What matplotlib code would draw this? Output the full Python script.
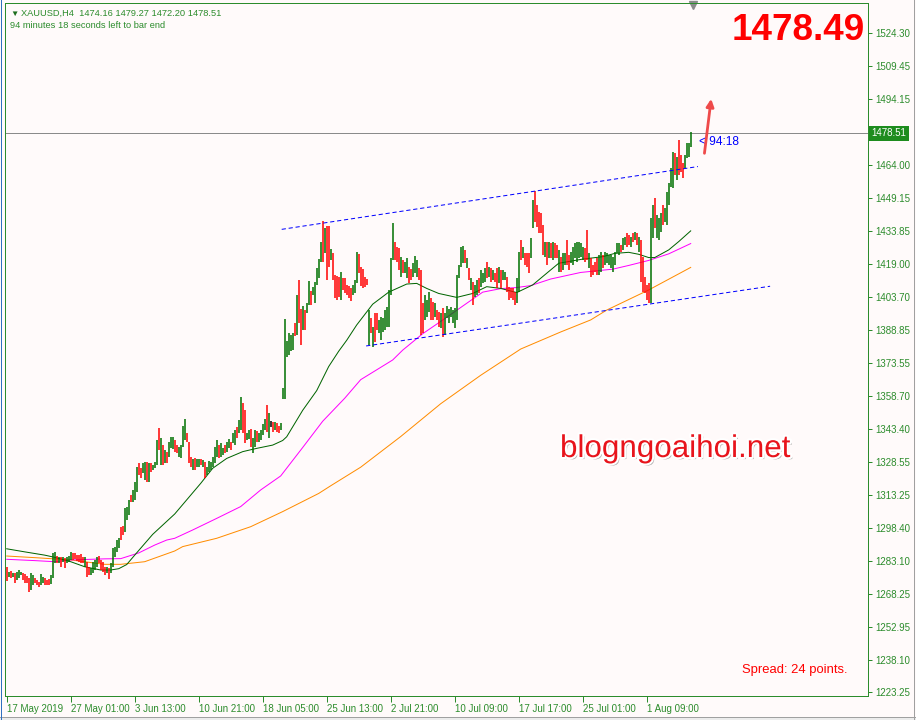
import numpy as np
import matplotlib
matplotlib.use("Agg")
import matplotlib.pyplot as plt
import matplotlib.patheffects as pe
import matplotlib.transforms as mtransforms

# ---- H4 bars (high / low), 10 per row ----
highs = [
    1280.5, 1278.2, 1278.7, 1277.8, 1277.5, 1278.2, 1279.0, 1278.2, 1277.5, 1277.2,
    1276.3, 1275.2, 1277.5, 1276.7, 1275.2, 1274.4, 1273.7, 1277.2, 1275.9, 1275.2,
    1274.4, 1274.7, 1276.7, 1286.6, 1287.4, 1285.4, 1285.1, 1284.8, 1285.1, 1284.3,
    1285.1, 1285.4, 1287.4, 1286.9, 1286.6, 1285.9, 1285.9, 1286.3, 1284.8, 1285.1,
    1282.8, 1280.5, 1279.8, 1282.8, 1283.6, 1285.1, 1285.4, 1283.6, 1282.8, 1280.5,
    1280.5, 1279.8, 1282.1, 1288.9, 1289.4, 1292.7, 1293.5, 1298.8, 1299.1, 1307.2,
    1308.0, 1311.0, 1313.3, 1315.6, 1319.4, 1326.2, 1327.8, 1325.5, 1327.8, 1328.5,
    1328.5, 1327.8, 1327.8, 1327.0, 1328.5, 1338.4, 1343.8, 1339.2, 1336.1, 1333.8,
    1333.1, 1337.7, 1340.0, 1339.6, 1338.4, 1336.1, 1335.4, 1336.1, 1344.8, 1347.9,
    1341.5, 1337.6, 1330.8, 1329.6, 1330.0, 1329.6, 1329.6, 1329.6, 1329.3, 1328.5,
    1326.2, 1329.0, 1328.5, 1330.8, 1335.4, 1338.4, 1336.1, 1336.9, 1334.6, 1336.1,
    1337.6, 1338.7, 1337.6, 1341.5, 1343.0, 1344.5, 1347.6, 1357.9, 1355.5, 1352.1,
    1341.5, 1343.0, 1343.3, 1339.2, 1343.0, 1342.7, 1341.5, 1343.0, 1345.7, 1347.9,
    1354.4, 1350.6, 1347.2, 1346.8, 1346.8, 1346.0, 1344.8, 1346.3, 1362.0, 1393.6,
    1383.8, 1387.2, 1386.4, 1387.2, 1392.0, 1404.7, 1411.5, 1398.1, 1399.7, 1397.8,
    1400.9, 1411.2, 1406.7, 1408.2, 1410.8, 1416.9, 1421.0, 1429.1, 1438.7, 1435.2,
    1436.2, 1436.2, 1425.6, 1423.7, 1413.8, 1413.4, 1412.8, 1415.4, 1412.3, 1412.3,
    1409.3, 1408.8, 1407.7, 1409.3, 1411.5, 1424.5, 1423.4, 1417.3, 1416.4, 1413.1,
    1411.9, 1397.8, 1394.0, 1390.2, 1396.6, 1396.3, 1393.3, 1394.8, 1394.0, 1397.8,
    1399.4, 1407.0, 1421.4, 1437.8, 1429.1, 1426.8, 1426.0, 1422.2, 1420.7, 1419.9,
    1421.4, 1417.3, 1416.4, 1419.2, 1422.5, 1420.7, 1416.9, 1416.1, 1400.9, 1404.7,
    1402.4, 1406.2, 1403.2, 1401.6, 1400.9, 1397.8, 1397.1, 1396.3, 1398.6, 1396.3,
    1399.7, 1398.1, 1399.4, 1397.8, 1398.6, 1413.8, 1418.4, 1426.8, 1427.1, 1425.3,
    1421.4, 1416.9, 1412.3, 1410.8, 1409.3, 1411.5, 1412.3, 1416.1, 1414.6, 1416.9,
    1419.9, 1417.6, 1416.9, 1416.1, 1414.6, 1416.9, 1417.6, 1416.1, 1416.1, 1415.4,
    1413.1, 1408.5, 1407.7, 1407.7, 1406.2, 1412.3, 1424.5, 1429.8, 1426.8, 1423.7,
    1423.7, 1423.7, 1430.6, 1448.1, 1452.2, 1445.8, 1442.5, 1442.0, 1436.7, 1429.1,
    1429.1, 1429.1, 1428.3, 1429.1, 1428.3, 1427.5, 1425.3, 1422.2, 1423.7, 1423.7,
    1429.8, 1423.0, 1424.5, 1426.8, 1428.3, 1429.1, 1429.1, 1428.3, 1426.8, 1426.0,
    1434.4, 1423.7, 1421.5, 1418.4, 1419.9, 1421.5, 1423.0, 1424.5, 1423.0, 1424.5,
    1423.7, 1423.0, 1423.0, 1422.2, 1424.5, 1428.3, 1428.3, 1427.5, 1430.6, 1431.4,
    1432.9, 1432.1, 1431.4, 1432.9, 1433.6, 1432.9, 1431.4, 1429.8, 1422.2, 1413.1,
    1409.3, 1410.0, 1439.7, 1445.8, 1448.9, 1441.3, 1439.7, 1442.0, 1445.8, 1444.3,
    1451.9, 1455.7, 1462.6, 1470.2, 1469.4, 1467.9, 1475.5, 1468.7, 1464.9, 1468.7,
    1474.0, 1474.0, 1479.27,
]
lows = [
    1274.1, 1275.9, 1275.2, 1275.6, 1272.9, 1274.4, 1275.2, 1276.7, 1274.4, 1272.9,
    1272.9, 1269.1, 1269.9, 1272.2, 1272.9, 1272.2, 1271.4, 1272.2, 1272.9, 1272.2,
    1272.2, 1272.2, 1272.6, 1275.2, 1282.1, 1282.4, 1282.1, 1280.5, 1282.8, 1279.8,
    1282.1, 1282.8, 1283.6, 1283.6, 1283.9, 1283.3, 1282.8, 1282.4, 1282.4, 1280.5,
    1275.9, 1276.7, 1276.7, 1277.5, 1279.0, 1280.5, 1282.1, 1279.0, 1278.2, 1276.7,
    1277.5, 1274.7, 1277.5, 1280.5, 1285.1, 1287.4, 1288.9, 1292.7, 1295.0, 1296.5,
    1301.9, 1304.1, 1310.2, 1310.2, 1311.0, 1314.8, 1322.4, 1320.9, 1323.2, 1320.1,
    1319.4, 1319.4, 1323.9, 1324.7, 1325.5, 1327.0, 1333.8, 1327.0, 1327.0, 1327.8,
    1327.8, 1330.8, 1334.6, 1334.1, 1333.1, 1332.3, 1330.8, 1330.0, 1335.4, 1338.4,
    1337.6, 1327.8, 1326.2, 1324.7, 1324.7, 1326.2, 1326.2, 1327.0, 1326.2, 1320.9,
    1322.4, 1323.9, 1324.7, 1326.2, 1327.8, 1330.8, 1330.0, 1330.8, 1331.5, 1332.3,
    1333.1, 1334.6, 1333.8, 1336.9, 1336.1, 1339.2, 1341.5, 1343.0, 1341.5, 1337.2,
    1338.4, 1338.7, 1335.4, 1332.6, 1335.4, 1337.6, 1337.6, 1338.4, 1340.7, 1343.0,
    1342.2, 1339.2, 1344.5, 1342.2, 1343.0, 1342.2, 1341.5, 1343.0, 1357.2, 1357.3,
    1376.5, 1377.3, 1379.2, 1379.5, 1385.9, 1386.4, 1391.7, 1381.8, 1388.7, 1388.7,
    1396.3, 1400.1, 1400.1, 1404.7, 1400.9, 1409.3, 1412.3, 1419.9, 1419.9, 1423.7,
    1411.5, 1417.6, 1420.7, 1411.5, 1403.2, 1402.4, 1403.9, 1402.4, 1407.0, 1405.4,
    1404.7, 1403.2, 1402.1, 1404.7, 1405.4, 1410.0, 1414.6, 1408.8, 1407.7, 1408.5,
    1409.3, 1381.8, 1387.2, 1381.1, 1383.4, 1388.7, 1387.2, 1384.1, 1387.9, 1388.7,
    1390.2, 1390.2, 1404.7, 1420.7, 1420.7, 1419.9, 1416.1, 1413.1, 1414.6, 1414.9,
    1412.3, 1410.0, 1411.5, 1413.1, 1414.6, 1413.1, 1411.5, 1386.4, 1387.2, 1393.3,
    1394.8, 1397.1, 1393.3, 1393.3, 1394.8, 1393.3, 1390.2, 1389.5, 1385.6, 1386.4,
    1394.0, 1391.7, 1394.8, 1391.7, 1389.5, 1393.3, 1412.3, 1417.6, 1419.2, 1419.2,
    1416.9, 1411.5, 1407.0, 1400.1, 1403.9, 1404.7, 1405.4, 1408.5, 1410.0, 1410.8,
    1412.3, 1413.1, 1410.8, 1411.5, 1410.8, 1407.7, 1410.0, 1407.7, 1411.5, 1411.5,
    1406.2, 1402.4, 1403.2, 1402.4, 1400.1, 1400.9, 1406.2, 1420.7, 1421.5, 1418.4,
    1417.6, 1414.6, 1421.5, 1435.2, 1438.2, 1435.9, 1432.9, 1432.9, 1423.0, 1422.2,
    1418.4, 1421.5, 1421.5, 1420.7, 1421.5, 1421.5, 1415.4, 1415.4, 1416.1, 1418.4,
    1418.4, 1416.1, 1419.2, 1418.4, 1421.5, 1419.9, 1421.5, 1422.2, 1420.7, 1419.9,
    1420.7, 1416.9, 1413.1, 1413.8, 1415.4, 1413.8, 1413.8, 1415.4, 1416.9, 1418.4,
    1419.2, 1418.4, 1416.9, 1415.4, 1418.4, 1423.7, 1423.0, 1424.5, 1425.3, 1427.5,
    1426.8, 1427.5, 1426.8, 1429.1, 1429.8, 1427.5, 1424.5, 1410.8, 1406.2, 1405.5,
    1402.4, 1400.9, 1400.9, 1430.6, 1435.2, 1430.6, 1429.8, 1433.6, 1436.7, 1438.2,
    1436.7, 1445.8, 1454.2, 1453.4, 1459.5, 1457.3, 1459.5, 1461.1, 1458.0, 1462.6,
    1467.2, 1467.9, 1472.20,
]
# g = up bar, r = down bar, k = doji
dirs = "".join([
    "rgrgrgggrr", "rrggrrrggr", "rrgggrgrgr", "gggrrrrrrg", "rrggggrrrr",
    "grgggggrrg", "ggrgggrrgg", "rgrgggrgrg", "rgggrrgggg", "rrrgrggrgr",
    "ggggggrggr", "ggrggrggrr", "ggrggrgggg", "rgkrgrrggg", "ggggrgrrgr",
    "ggrgggggrg", "rrgrrrrgrr", "rrrgggrrrr", "rgrgrrgggg", "ggggrrrgrg",
    "grrgggrrrg", "ggrrgrrgrg", "gggggggggr", "grgrggrggg", "rgrgrrgrgg",
    "rrrrrggrgr", "rrggrrrrrg", "rgrgrrgrgg", "rrgggggggr", "rgrrrrggrg",
    "gggggggrgg", "rrgrgrgrrr", "rrggrgggrg", "ggggrgrrrg", "ggg",
])

# ---- moving averages (bar index, price) ----
ma_green_idx = [0, 9, 19, 24, 32, 39, 47, 52, 56, 60, 64, 73, 84, 97, 103, 110, 118, 125,
                133, 138, 140, 148, 155, 161, 166, 170, 175, 183, 191, 200, 205, 210, 216,
                225, 233, 240, 247, 255, 263, 271, 276, 288, 298, 304, 311, 316, 321, 324,
                331, 336, 342]
ma_green = [1288.7, 1287.3, 1285.8, 1284.8, 1282.8, 1280.5, 1279.0, 1279.0, 1279.6, 1281.5,
            1285.8, 1295.3, 1304.6, 1318.6, 1325.5, 1330.0, 1333.1, 1334.6, 1336.1, 1338.2,
            1339.9, 1352.0, 1361.0, 1372.0, 1379.0, 1384.0, 1391.0, 1400.5, 1406.0, 1409.7,
            1410.0, 1407.7, 1405.4, 1403.6, 1405.4, 1408.5, 1407.7, 1405.8, 1409.3, 1415.4,
            1419.2, 1421.1, 1422.2, 1423.7, 1424.2, 1423.3, 1421.8, 1421.8, 1425.3, 1429.1,
            1434.0]
ma_pink_idx = [0, 14, 24, 32, 49, 57, 66, 74, 80, 84, 93, 105, 117, 127, 137, 148, 158, 169,
               177, 193, 198, 208, 220, 230, 238, 247, 255, 262, 272, 287, 303, 311, 321,
               331, 342]
ma_pink = [1283.9, 1283.3, 1282.8, 1283.6, 1284.1, 1284.2, 1286.8, 1290.4, 1292.7, 1293.5,
           1297.3, 1302.6, 1308.0, 1315.6, 1322.0, 1335.0, 1347.0, 1357.5, 1366.0, 1375.0,
           1379.5, 1387.0, 1394.5, 1400.9, 1406.0, 1407.6, 1408.1, 1409.0, 1412.0, 1415.0,
           1416.5, 1418.2, 1420.5, 1423.5, 1428.2]
ma_orange_idx = [0, 15, 32, 49, 57, 69, 84, 88, 105, 122, 138, 156, 162, 177, 197, 217, 237,
                 257, 277, 292, 300, 321, 342]
ma_orange = [1285.4, 1284.6, 1283.6, 1281.6, 1281.6, 1282.8, 1287.7, 1289.7, 1293.5, 1298.8,
             1305.7, 1314.0, 1317.5, 1326.0, 1340.0, 1355.0, 1368.0, 1380.0, 1387.8, 1393.3,
             1397.8, 1407.0, 1417.3]

# channel lines (bar index, price)
chan_up_x, chan_up_y = [137.5, 345.6], [1434.7, 1463.4]
chan_dn_x, chan_dn_y = [179.7, 381.7], [1381.4, 1408.7]

last_price = 1478.51
yticks = [1524.30, 1509.45, 1494.15, 1464.00, 1449.15, 1433.85, 1419.00, 1403.70, 1388.85,
          1373.55, 1358.70, 1343.40, 1328.55, 1313.25, 1298.40, 1283.10, 1268.25, 1252.95,
          1238.10, 1223.25]
xtick_idx = [0, 32, 64, 96, 128, 160, 192, 224, 256, 288, 320]
xtick_lbl = ["17 May 2019", "27 May 01:00", "3 Jun 13:00", "10 Jun 21:00", "18 Jun 05:00",
             "25 Jun 13:00", "2 Jul 21:00", "10 Jul 09:00", "17 Jul 17:00", "25 Jul 01:00",
             "1 Aug 09:00"]

plt.rcParams['font.family'] = ['Liberation Sans', 'DejaVu Sans']
bg = '#fffafa'
axcol = '#2c8c2c'
px = 0.72  # one pixel in points at dpi 100

fig = plt.figure(figsize=(9.16, 7.2), dpi=100, facecolor=bg)
ax = fig.add_axes([5/916, 24/720, 863/916, 693/720], facecolor=bg)
ax.set_xlim(-0.85, 430.65)
ax.set_ylim(1221.42, 1538.15)

idx = np.arange(len(highs))
cmap = {'g': '#007000', 'r': '#ff0000', 'k': '#000000'}
cols = [cmap[c] for c in dirs]

ax.axhline(last_price, color='#8a8a8a', lw=px, zorder=1)

ax.plot(ma_orange_idx, ma_orange, color='#ff8c00', lw=px, zorder=2)
ax.plot(ma_pink_idx, ma_pink, color='#ff00ff', lw=px, zorder=2)
ax.plot(ma_green_idx, ma_green, color='#006400', lw=px, zorder=2)

bars = ax.vlines(idx, lows, highs, colors=cols, lw=1.1, zorder=3)
bars.set_snap(True)

ax.plot(chan_up_x, chan_up_y, color='#0000ff', lw=px, ls=(0, (4.2, 2.8)), zorder=4)
ax.plot(chan_dn_x, chan_dn_y, color='#0000ff', lw=px, ls=(0, (4.2, 2.8)), zorder=4)

# axes styling
for s in ax.spines.values():
    s.set_color(axcol)
    s.set_linewidth(px)
ax.yaxis.tick_right()
ax.set_yticks(yticks)
ax.set_yticklabels([f"{v:.2f}" for v in yticks])
ax.set_xticks(xtick_idx)
ax.set_xticklabels(xtick_lbl)
for lbl in ax.get_xticklabels():
    lbl.set_ha('left')
ax.tick_params(axis='y', direction='out', length=3, width=px, colors=axcol,
               labelsize=7, pad=2)
ax.tick_params(axis='x', direction='out', length=4, width=px, colors=axcol,
               labelsize=7, pad=2)

# current price box
trans = mtransforms.blended_transform_factory(ax.transAxes, ax.transData)
ax.text(1.004, last_price, f"{last_price:.2f}", transform=trans, ha='left', va='center',
        color='white', fontsize=7,
        bbox=dict(boxstyle='square,pad=0.25', fc='#1e8c1e', ec='none'), clip_on=False)

# countdown and arrow
ax.text(346.2, 1474.8, "< 94:18", color='#0000ff', fontsize=8.6, va='center', ha='left')
ax.annotate('', xy=(352.4, 1495.6), xytext=(348.7, 1468.2),
            arrowprops=dict(arrowstyle='-|>', color='#ef4a4a', lw=2, mutation_scale=11))

# chart-shift marker
ax.plot([0.797], [0.997], marker='v', color='#8a8a8a', ms=6, transform=ax.transAxes,
        clip_on=False)

# header texts
fig.text(10/916, 1 - 15.5/720, "\u25BC", color='#1e6e1e', fontsize=6, va='baseline')
fig.text(21/916, 1 - 16/720, "XAUUSD,H4  1474.16 1479.27 1472.20 1478.51", color=axcol,
         fontsize=6.7, va='baseline')
fig.text(10/916, 1 - 28/720, "94 minutes 18 seconds left to bar end", color=axcol,
         fontsize=6.7, va='baseline')

fig.text(865/916, 1 - 40/720, "1478.49", color='#ff0000', fontsize=26.6,
         fontweight='bold', ha='right', va='baseline')

fig.text(560/916, 1 - 457/720, "blogngoaihoi.net", color='#e8141c', fontsize=22.6,
         va='baseline',
         path_effects=[pe.withSimplePatchShadow(offset=(1.5, -1.5), shadow_rgbFace='#777777',
                                                alpha=0.6),
                       pe.Stroke(linewidth=3, foreground='white'), pe.Normal()])

fig.text(742/916, 1 - 672.5/720, "Spread: 24 points.", color='#ff0000', fontsize=9.4,
         va='baseline')

# window edges
fig.add_artist(plt.Line2D([913.5/916, 913.5/916], [0, 1], transform=fig.transFigure,
                          color='#a0a0a0', lw=px))
fig.add_artist(plt.Rectangle((0, 0), 1, 3.5/720, transform=fig.transFigure,
                             fc='#ececec', ec='none'))
fig.add_artist(plt.Line2D([0, 1], [3.5/720, 3.5/720], transform=fig.transFigure,
                          color='#a0a0a0', lw=px))
fig.add_artist(plt.Line2D([0.5/916, 0.5/916], [0, 1], transform=fig.transFigure,
                          color='#3070c0', lw=px))

fig.savefig("out.png", dpi=100, facecolor=bg)
